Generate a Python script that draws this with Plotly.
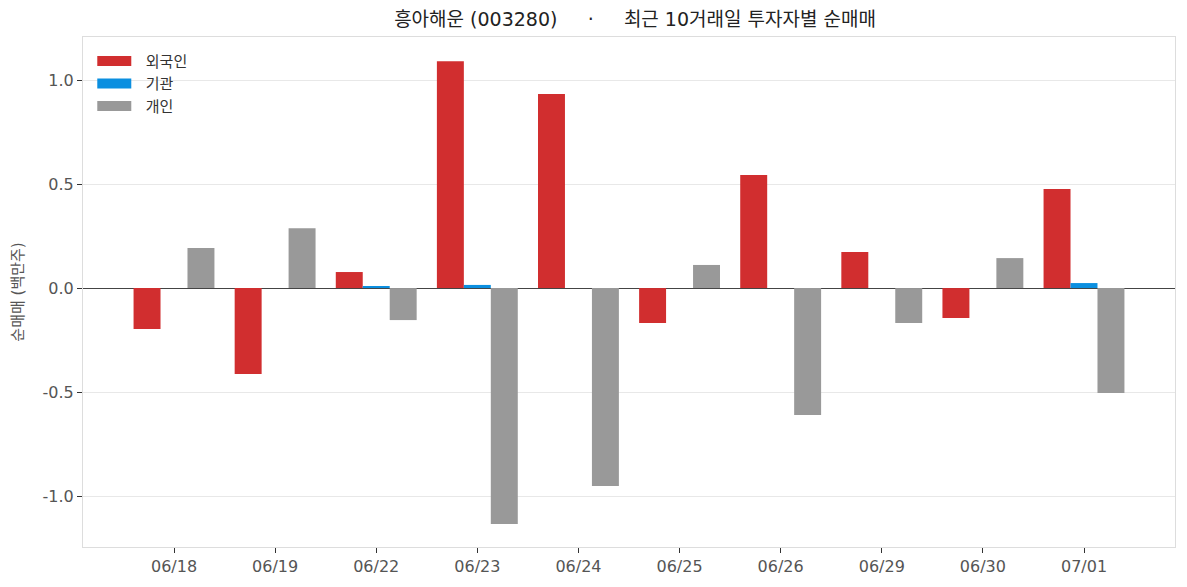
import plotly.graph_objects as go

dates = ["06/18", "06/19", "06/22", "06/23", "06/24", "06/25", "06/26", "06/29", "06/30", "07/01"]
foreign = [-0.197, -0.413, 0.077, 1.091, 0.933, -0.168, 0.543, 0.173, -0.144, 0.476]
institution = [0.0, 0.0, 0.010, 0.015, 0.0, 0.0, 0.0, 0.0, 0.0, 0.024]
individual = [0.192, 0.288, -0.154, -1.135, -0.952, 0.111, -0.610, -0.168, 0.144, -0.505]

series_names = ["외국인", "기관", "개인"]
series_colors = ["#d12e2f", "#0b8fe0", "#999999"]

ytick_vals = [-1.0, -0.5, 0.0, 0.5, 1.0]
ytick_text = ["-1.0", "-0.5", "0.0", "0.5", "1.0"]

FONT = "DejaVu Sans, Noto Sans CJK KR"
NB = "\u00a0"

fig = go.Figure()
for name, vals, col in zip(series_names, [foreign, institution, individual], series_colors):
    fig.add_trace(go.Bar(x=dates, y=vals, name=name, legendgroup=name, showlegend=False,
                         marker=dict(color=col, line=dict(width=0))))
# legend swatches (wide rectangles like the reference)
for name, col in zip(series_names, series_colors):
    fig.add_trace(go.Scatter(x=[None], y=[None], mode="lines", name=NB * 2 + name, legendgroup=name,
                             line=dict(color=col, width=12), showlegend=True, hoverinfo="skip"))

title_text = "흥아해운 (003280)" + NB * 5 + "·" + NB * 5 + "최근 10거래일 투자자별 순매매"

fig.update_layout(
    width=1187, height=587,
    margin=dict(l=83, r=12, t=37, b=40),
    paper_bgcolor="white", plot_bgcolor="white",
    barmode="group", bargap=0.2, bargroupgap=0,
    font=dict(family=FONT, color="#555555", size=15),
    title=dict(text=title_text, x=0.535, xanchor="center",
               y=0.967, yanchor="middle", font=dict(family=FONT, size=19, color="#222222")),
    legend=dict(x=0.0085, y=0.985, xanchor="left", yanchor="top", bgcolor="rgba(255,255,255,0)",
                font=dict(family=FONT, size=15, color="#333333"), itemwidth=34, tracegroupgap=0),
    showlegend=True,
)
fig.update_xaxes(
    range=[-0.9, 9.9], showgrid=False, ticks="outside", ticklen=5, tickcolor="#333333",
    showline=True, mirror=True, linecolor="#dddddd", linewidth=1,
    tickfont=dict(family=FONT, size=16, color="#555555"), zeroline=False,
)
fig.update_yaxes(
    range=[-1.245, 1.207], tickvals=ytick_vals, ticktext=ytick_text,
    showgrid=True, gridcolor="#e8e8e8", gridwidth=1,
    ticks="outside", ticklen=5, tickcolor="#333333",
    showline=True, mirror=True, linecolor="#dddddd", linewidth=1,
    zeroline=True, zerolinecolor="#444444", zerolinewidth=1,
    tickfont=dict(family=FONT, size=16, color="#555555"),
    title=dict(text="순매매 (백만주)", font=dict(family=FONT, size=15, color="#555555"), standoff=15),
)

fig.write_html("out.html")
